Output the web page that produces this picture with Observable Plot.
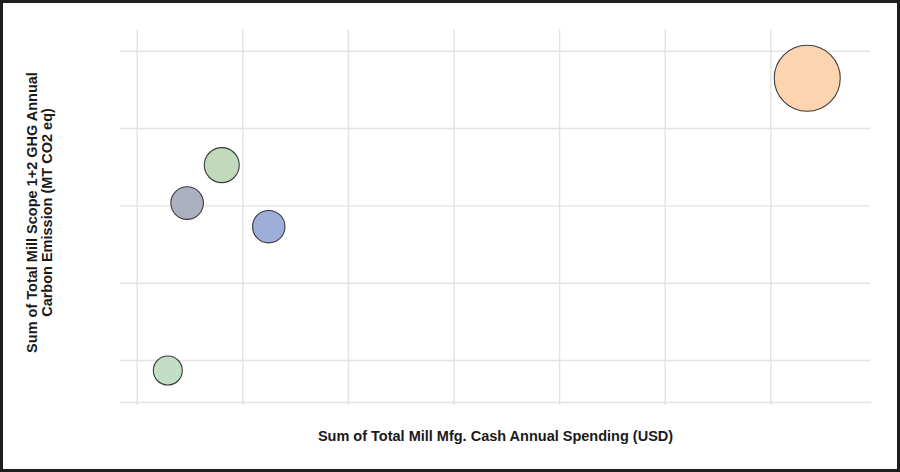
<!DOCTYPE html>
<html>
<head>
<meta charset="utf-8">
<script src="https://cdn.jsdelivr.net/npm/d3@7"></script>
<script src="https://cdn.jsdelivr.net/npm/@observablehq/plot@0.6"></script>
<style>
  html, body { margin: 0; padding: 0; background: #fff; }
  #chart svg { display: block; outline: 3px solid #1e1e1e; outline-offset: -3px; }
</style>
</head>
<body>
<div id="chart"></div>
<script>
const mills = ["Mill A", "Mill B", "Mill C", "Mill D", "Mill E"];
const spending = [6.345, 0.801, 0.473, 1.246, 0.290];
const emissions = [3.651, 2.527, 2.036, 1.731, -0.129];
const bubbleSize = [100, 28.1, 24.4, 24.1, 19.3];
const colors = ["#fdd4b0", "#c1dabb", "#acb0c1", "#9eaedb", "#c2dfc5"];
const xTicks = [0, 1, 2, 3, 4, 5, 6];
const yTicks = [0, 1, 2, 3, 4];
const xLabel = "Sum of Total Mill Mfg. Cash Annual Spending (USD)";
const yLabel = "Sum of Total Mill Scope 1+2 GHG Annual\nCarbon Emission (MT CO2 eq)";

const data = mills.map((m, i) => ({
  mill: m, x: spending[i], y: emissions[i], size: bubbleSize[i], color: colors[i]
}));

const font = "'Liberation Sans', Arial, Helvetica, sans-serif";
const grid = "#e3e3e3";

const chart = Plot.plot({
  width: 900,
  height: 472,
  marginTop: 30,
  marginBottom: 70,
  marginLeft: 120,
  marginRight: 30,
  style: { fontFamily: font, background: "#fff" },
  x: { domain: [-0.158, 6.944], axis: null },
  y: { domain: [-0.543, 4.268], axis: null },
  r: { type: "sqrt", domain: [0, 100], range: [0, 33] },
  marks: [
    Plot.ruleY(yTicks, { stroke: grid, strokeWidth: 1.4 }),
    Plot.ruleX(xTicks, { stroke: grid, strokeWidth: 1.4, insetBottom: -3, insetTop: -1 }),
    Plot.frame({ anchor: "bottom", stroke: grid, strokeWidth: 1.4 }),
    Plot.dot(data, {
      x: "x", y: "y", r: "size", fill: "color", fillOpacity: 1,
      stroke: "#3c3c3c", strokeWidth: 1.1
    }),
    Plot.text([xLabel], {
      frameAnchor: "bottom", dy: 38, text: d => d,
      fontSize: 14.5, fontWeight: "bold", fill: "#1a1a1a", fontFamily: font
    }),
    Plot.text([yLabel], {
      frameAnchor: "left", dx: -81, dy: -4, rotate: -90, text: d => d,
      textAnchor: "middle", lineAnchor: "middle", lineHeight: 1.02,
      fontSize: 14.5, fontWeight: "bold", fill: "#1a1a1a", fontFamily: font
    })
  ]
});

document.getElementById("chart").appendChild(chart);
</script>
</body>
</html>
